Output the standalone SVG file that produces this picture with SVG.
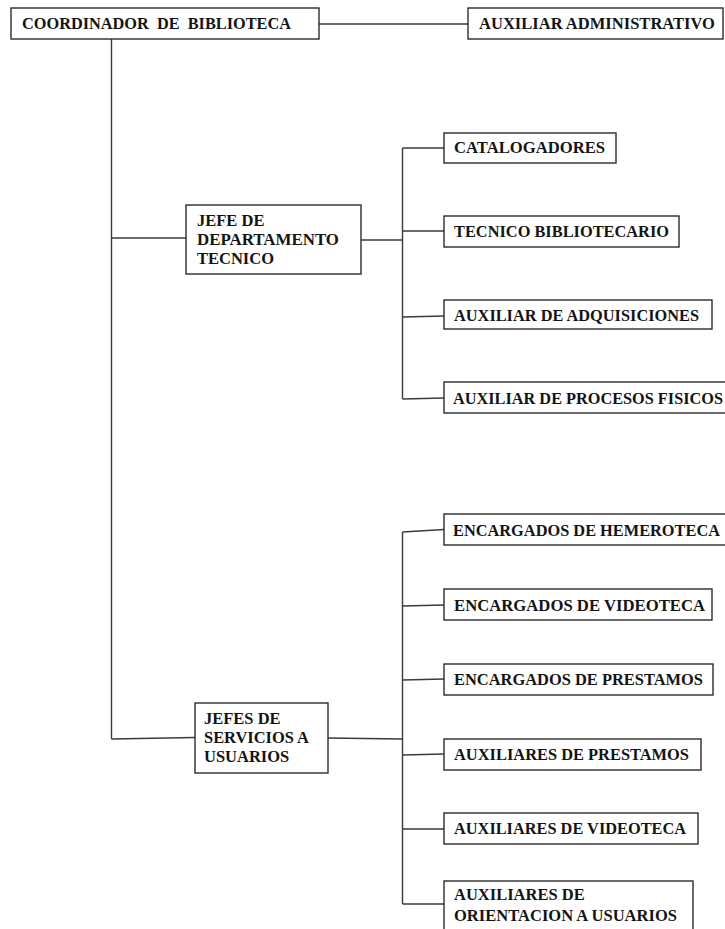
<svg xmlns="http://www.w3.org/2000/svg" width="725" height="929" viewBox="0 0 725 929">
<style>
.box{fill:#fff;stroke:#2b2b2b;stroke-width:1.4}
.ln{fill:none;stroke:#3a3a3a;stroke-width:1.4}
text{font-family:"Liberation Serif","Times New Roman",serif;font-weight:bold;font-size:16.5px;fill:#141414}
.pre{white-space:pre}
</style>
<rect width="725" height="929" fill="#fff"/>
<g id="connectors">
<line class="ln" x1="319" y1="24" x2="468" y2="24"/>
<line class="ln" x1="111.5" y1="39" x2="111.5" y2="739"/>
<line class="ln" x1="111.5" y1="238" x2="186" y2="238"/>
<line class="ln" x1="111.5" y1="739" x2="195" y2="737.5"/>
<line class="ln" x1="361" y1="240" x2="402.5" y2="240"/>
<line class="ln" x1="402.5" y1="148" x2="402.5" y2="399"/>
<line class="ln" x1="402.5" y1="148" x2="444" y2="148"/>
<line class="ln" x1="402.5" y1="231" x2="444" y2="231"/>
<line class="ln" x1="402.5" y1="317" x2="444" y2="316"/>
<line class="ln" x1="402.5" y1="399" x2="444" y2="398"/>
<line class="ln" x1="328" y1="738" x2="402.5" y2="739"/>
<line class="ln" x1="402.5" y1="532" x2="402.5" y2="904"/>
<line class="ln" x1="402.5" y1="532" x2="444" y2="529.5"/>
<line class="ln" x1="402.5" y1="606" x2="444" y2="605"/>
<line class="ln" x1="402.5" y1="680" x2="444" y2="679"/>
<line class="ln" x1="402.5" y1="755" x2="444" y2="754"/>
<line class="ln" x1="402.5" y1="829" x2="444" y2="829"/>
<line class="ln" x1="402.5" y1="904" x2="444" y2="904"/>
</g>
<g id="coordinador"><rect class="box" x="11" y="8" width="308" height="31"/><text class="pre" xml:space="preserve" x="22" y="29" textLength="269" lengthAdjust="spacingAndGlyphs">COORDINADOR  DE  BIBLIOTECA</text></g>
<g id="aux-admin"><rect class="box" x="468" y="8" width="255" height="31"/><text x="479" y="29" textLength="236" lengthAdjust="spacingAndGlyphs">AUXILIAR ADMINISTRATIVO</text></g>
<g id="jefe-tecnico"><rect class="box" x="186" y="205" width="175" height="69"/>
<text x="197" y="226">JEFE DE</text><text x="197" y="245" textLength="142" lengthAdjust="spacingAndGlyphs">DEPARTAMENTO</text><text x="197" y="263.5">TECNICO</text></g>
<g id="catalogadores"><rect class="box" x="444" y="133" width="172" height="30"/><text x="454" y="153" textLength="151" lengthAdjust="spacingAndGlyphs">CATALOGADORES</text></g>
<g id="tecnico-bib"><rect class="box" x="444" y="216" width="235" height="31"/><text x="454" y="236.5" textLength="215" lengthAdjust="spacingAndGlyphs">TECNICO BIBLIOTECARIO</text></g>
<g id="aux-adq"><rect class="box" x="444" y="300" width="268" height="29"/><text x="454" y="320.5" textLength="245" lengthAdjust="spacingAndGlyphs">AUXILIAR DE ADQUISICIONES</text></g>
<g id="aux-procesos"><rect class="box" x="444" y="382" width="282" height="31"/><text x="453" y="403.5" textLength="270" lengthAdjust="spacingAndGlyphs">AUXILIAR DE PROCESOS FISICOS</text></g>
<g id="jefes-servicios"><rect class="box" x="195" y="703" width="133" height="70"/>
<text x="204" y="724">JEFES DE</text><text x="204" y="743" textLength="105" lengthAdjust="spacingAndGlyphs">SERVICIOS A</text><text x="204" y="762">USUARIOS</text></g>
<g id="enc-hemeroteca"><rect class="box" x="444" y="514" width="282" height="31"/><text x="453" y="535.5" textLength="267" lengthAdjust="spacingAndGlyphs">ENCARGADOS DE HEMEROTECA</text></g>
<g id="enc-videoteca"><rect class="box" x="444" y="589" width="268" height="31"/><text x="454" y="610.5" textLength="251" lengthAdjust="spacingAndGlyphs">ENCARGADOS DE VIDEOTECA</text></g>
<g id="enc-prestamos"><rect class="box" x="444" y="664" width="269" height="31"/><text x="454" y="684.5" textLength="249" lengthAdjust="spacingAndGlyphs">ENCARGADOS DE PRESTAMOS</text></g>
<g id="aux-prestamos"><rect class="box" x="444" y="739" width="257" height="31"/><text x="454" y="760" textLength="235" lengthAdjust="spacingAndGlyphs">AUXILIARES DE PRESTAMOS</text></g>
<g id="aux-videoteca"><rect class="box" x="444" y="813" width="254" height="31"/><text x="454" y="834" textLength="232" lengthAdjust="spacingAndGlyphs">AUXILIARES DE VIDEOTECA</text></g>
<g id="aux-orientacion"><rect class="box" x="444" y="881" width="249" height="52"/>
<text x="454" y="899.5">AUXILIARES DE</text><text x="454" y="920.5" textLength="223" lengthAdjust="spacingAndGlyphs">ORIENTACION A USUARIOS</text></g>
</svg>
